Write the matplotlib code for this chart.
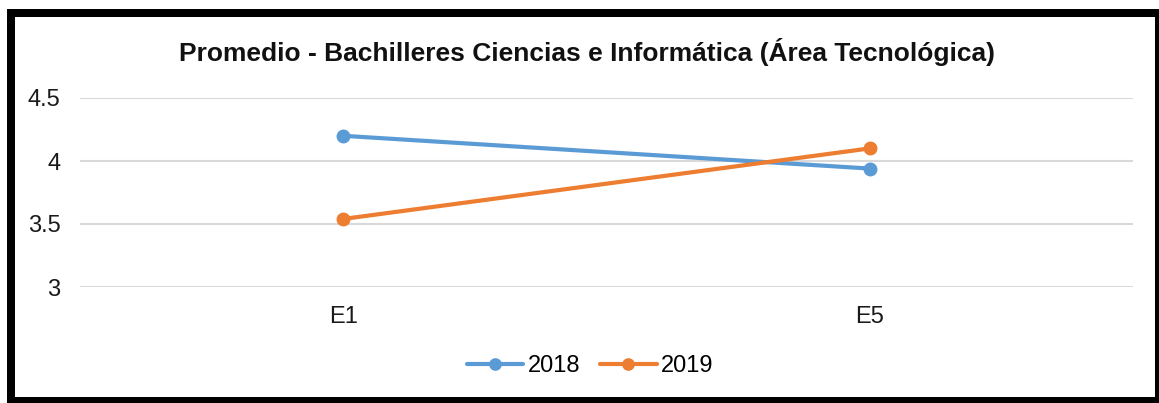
import matplotlib
matplotlib.use("Agg")
import matplotlib.pyplot as plt
from matplotlib.patches import Rectangle

categories = ["E1", "E5"]
series_names = ["2018", "2019"]
values_2018 = [4.20, 3.94]
values_2019 = [3.54, 4.10]
yticks = [3, 3.5, 4, 4.5]
ytick_labels = ["3", "3.5", "4", "4.5"]
title = "Promedio - Bachilleres Ciencias e Informática (Área Tecnológica)"

colors = ["#5B9BD5", "#ED7D31"]

plt.rcParams['font.family'] = ['Liberation Sans', 'DejaVu Sans']

W, H = 1159, 403
fig = plt.figure(figsize=(W / 100, H / 100), dpi=100)
fig.patch.set_facecolor("white")

ax = fig.add_axes([80 / W, 1 - 287 / H, (1133 - 80) / W, (287 - 98) / H])
x = list(range(len(categories)))
for vals, name, c in zip([values_2018, values_2019], series_names, colors):
    ax.plot(x, vals, color=c, lw=3, marker="o", ms=9, label=name,
            solid_capstyle="round", zorder=3)

ax.set_xlim(-0.5, len(categories) - 0.5)
ax.set_ylim(3, 4.5)
ax.set_yticks(yticks)
ax.set_yticklabels(ytick_labels)
ax.set_xticks(x)
ax.set_xticklabels(categories)
ax.tick_params(axis="both", length=0, labelsize=17, colors="#1a1a1a")
ax.tick_params(axis="x", pad=14)
ax.tick_params(axis="y", pad=14)
ax.grid(axis="y", color="#D9D9D9", lw=1.5, zorder=0)
for s in ax.spines.values():
    s.set_visible(False)

fig.text(587 / W, 1 - 52 / H, title, ha="center", va="center",
         fontsize=19, fontweight="bold", color="#111111")

leg = fig.legend(loc="center", bbox_to_anchor=(590 / W, 1 - 366 / H),
                 ncol=2, frameon=False, fontsize=17, handlelength=2.4,
                 columnspacing=0.85, handletextpad=0.17, markerscale=0.9)

# outer black border
def rect(x0, y0, x1, y1):
    fig.patches.append(Rectangle((x0 / W, 1 - y1 / H), (x1 - x0) / W, (y1 - y0) / H,
                                 transform=fig.transFigure, color="black", lw=0))

rect(7, 9, 1159, 17)      # top
rect(7, 9, 15, 403)       # left
rect(1155, 9, 1159, 403)  # right
rect(7, 397, 1159, 403)   # bottom

fig.savefig("out.png", dpi=100, facecolor="white")
